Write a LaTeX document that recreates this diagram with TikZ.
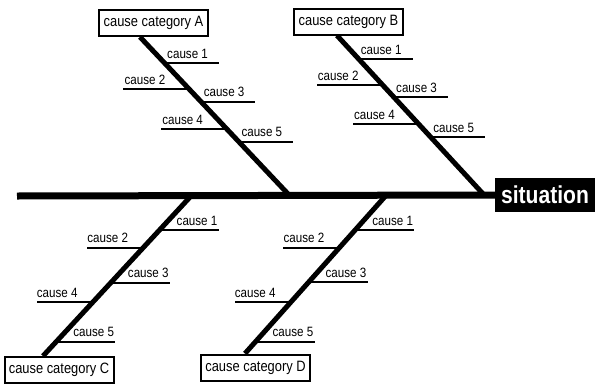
\documentclass[tikz,border=0pt]{standalone}
\usepackage{fontspec}
\setmainfont{Liberation Sans}[FakeStretch=0.86]
\usetikzlibrary{calc,backgrounds}

\tikzset{
  catbox/.style={draw, line width=2pt, fill=white, inner sep=0pt,
    minimum width=109pt, minimum height=26pt,
    font=\fontsize{15}{17}\selectfont},
  sitbox/.style={fill=black, text=white, inner sep=0pt,
    minimum width=100pt, minimum height=34pt,
    font=\bfseries\fontsize{24.5}{28}\selectfont},
  spine/.style={line width=7pt},
  bone/.style={line width=5pt},
  twig/.style={line width=2pt},
  causelbl/.style={inner sep=0pt, font=\fontsize{13.5}{16}\selectfont},
}

% #1 bone, #2 index, #3 height, #4 signed length,
% #5 label anchor, #6 reference suffix (empty = on the bone, e = free end), #7 label shift
\newcommand\causeline[7]{%
  \coordinate (#1#2) at (intersection of #1top--#1join and 0,#3--599,#3);
  \draw[twig] (#1#2) -- ++(#4,0) coordinate (#1#2e);
  \node[causelbl, anchor=#5] (#1#2l) at ($(#1#2#6)+(#7,-5)$) {cause #2};
}

\begin{document}
\begin{tikzpicture}[x=1pt,y=-1pt]
\useasboundingbox (0,0) rectangle (599,383);

% head and category boxes
\node[sitbox] (sit) at (545,195) {situation};
\node[catbox] (boxA) at (153.5,23) {cause category A};
\node[catbox] (boxB) at (348.5,21.5) {cause category B};
\node[catbox] (boxC) at (59,370) {cause category C};
\node[catbox] (boxD) at (255.5,367.5) {cause category D};

% bone ends
\coordinate (tail) at (17,196);
\coordinate (Atop) at ($(boxA.south)+(-13.5,0)$);
\coordinate (Ajoin) at (290,196);
\coordinate (Btop) at ($(boxB.south)+(-11.5,0)$);
\coordinate (Bjoin) at (485,196);
\coordinate (Ctop) at ($(boxC.north)+(-16,0)$);
\coordinate (Cjoin) at (191,196);
\coordinate (Dtop) at ($(boxD.north)+(-10.5,0)$);
\coordinate (Djoin) at (385.5,196);

\begin{scope}[on background layer]
  \draw[spine] (tail) -- (sit.west);
  \draw[bone] (Atop) -- (Ajoin);
  \draw[bone] (Btop) -- (Bjoin);
  \draw[bone] (Ctop) -- (Cjoin);
  \draw[bone] (Dtop) -- (Djoin);
\end{scope}

% causes on the upper bones
\causeline{A}{1}{63}{54}{base west}{}{2.5}
\causeline{A}{2}{89.3}{-66}{base west}{e}{1}
\causeline{A}{3}{101.7}{54}{base west}{}{2.5}
\causeline{A}{4}{129.3}{-66}{base west}{e}{1}
\causeline{A}{5}{141.7}{54}{base west}{}{2.5}

\causeline{B}{1}{59}{54}{base west}{}{2}
\causeline{B}{2}{85}{-66}{base west}{e}{1}
\causeline{B}{3}{97.3}{54}{base west}{}{2}
\causeline{B}{4}{124.3}{-66}{base west}{e}{1}
\causeline{B}{5}{137}{54}{base west}{}{2.5}

% causes on the lower bones
\causeline{C}{1}{230}{59}{base east}{e}{-1}
\causeline{C}{2}{247.7}{-56}{base west}{e}{0}
\causeline{C}{3}{282.7}{59}{base east}{e}{-1}
\causeline{C}{4}{302.3}{-56}{base west}{e}{0}
\causeline{C}{5}{341.7}{59}{base east}{e}{-1}

\causeline{D}{1}{230}{59}{base east}{e}{-1}
\causeline{D}{2}{247.7}{-56}{base west}{e}{0}
\causeline{D}{3}{282.3}{59}{base east}{e}{-1}
\causeline{D}{4}{302.3}{-56}{base west}{e}{0}
\causeline{D}{5}{341.7}{59}{base east}{e}{-1}
\end{tikzpicture}
\end{document}
